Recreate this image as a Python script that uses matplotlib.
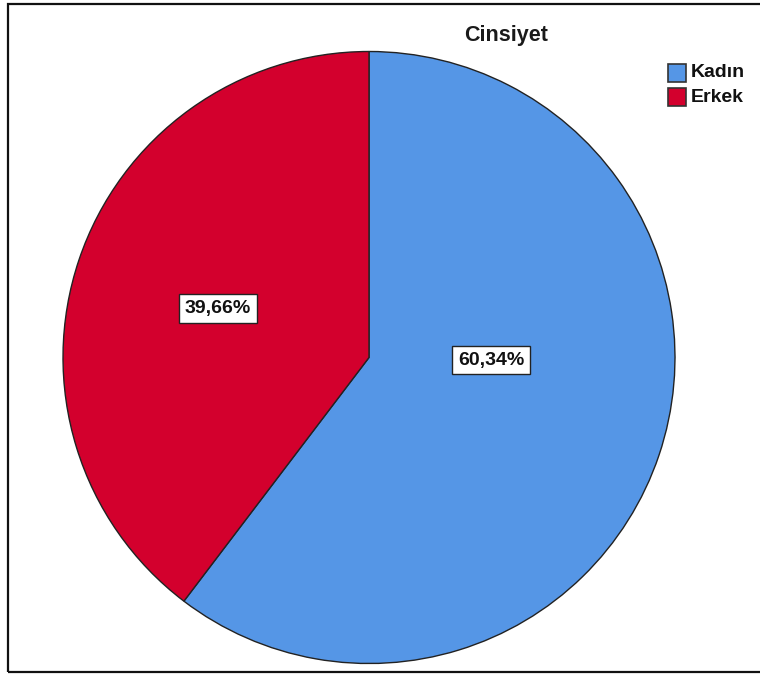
import numpy as np
import matplotlib
matplotlib.use("Agg")
import matplotlib.pyplot as plt
from matplotlib.patches import Rectangle

categories = ["Kadın", "Erkek"]
percentages = [60.34, 39.66]
colors = ["#5596E6", "#D3002D"]
title = "Cinsiyet"

W, H = 760, 675
fig = plt.figure(figsize=(W / 100, H / 100), dpi=100)
ax = fig.add_axes([0, 0, 1, 1])

font = ["Liberation Sans", "DejaVu Sans"]

# outer frame
ax.add_patch(Rectangle((8, 3), 780, 668, fill=False, edgecolor="#111111",
                       linewidth=1.6, zorder=1))

cx, cy, r = 369, H - 357.5, 306
wedges, _ = ax.pie(percentages, colors=colors, startangle=90, counterclock=False,
                   center=(cx, cy), radius=r, frame=True,
                   wedgeprops=dict(edgecolor="#222222", linewidth=1.0))
ax.set_xlim(0, W)
ax.set_ylim(0, H)
ax.set_aspect("equal")
ax.axis("off")

# percentage labels placed inside each wedge
label_polar = [(-1.2, 0.40), (162.0, 0.52)]
for pct, (ang, frac) in zip(percentages, label_polar):
    a = np.deg2rad(ang)
    x = cx + frac * r * np.cos(a)
    y = cy + frac * r * np.sin(a)
    txt = f"{pct:.2f}".replace(".", ",") + "%"
    ax.text(x, y, txt, ha="center", va="center", fontsize=14, fontweight="bold",
            family=font, color="#111111", zorder=5,
            bbox=dict(boxstyle="square,pad=0.3", facecolor="white",
                      edgecolor="#222222", linewidth=1.0))

ax.text(506, H - 36, title, ha="center", va="center", fontsize=15.5,
        fontweight="bold", family=font, color="#1a1a1a")

# legend
for i, (cat, col) in enumerate(zip(categories, colors)):
    yc = H - (72.5 + 24.5 * i)
    ax.add_patch(Rectangle((668, yc - 9), 18, 18, facecolor=col,
                           edgecolor="#333333", linewidth=1.2, zorder=4))
    ax.text(691, yc, cat, ha="left", va="center", fontsize=14,
            fontweight="bold", family=font, color="#111111")

fig.savefig("out.png", dpi=100)
